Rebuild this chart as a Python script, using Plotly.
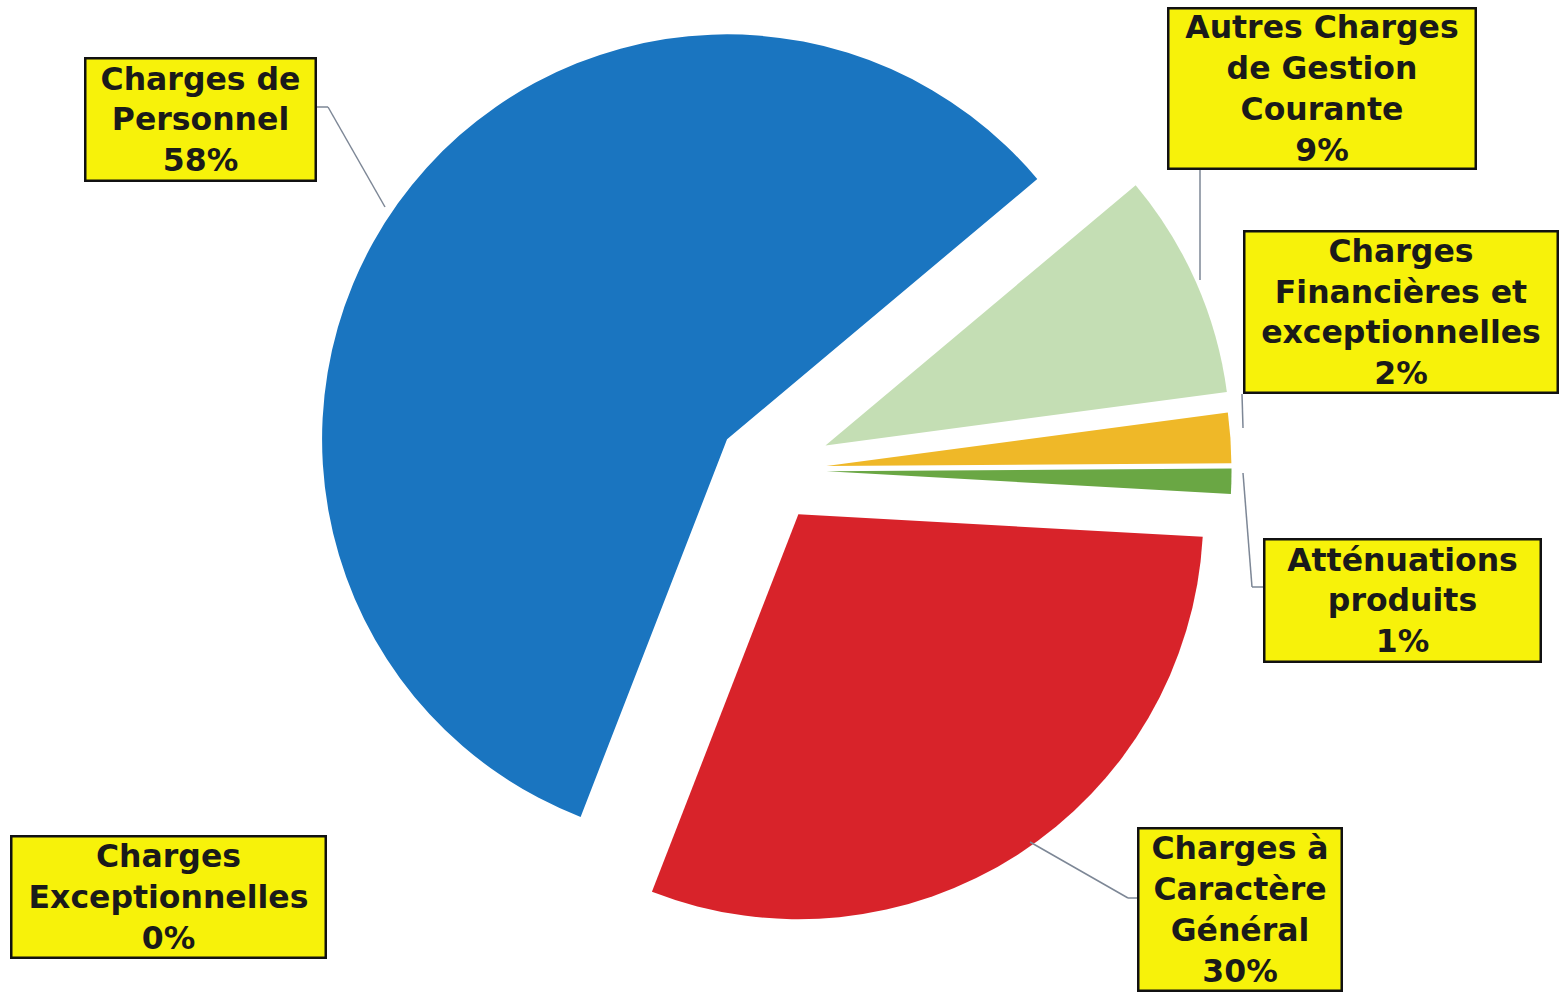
import plotly.graph_objects as go

# ---- data ----
labels = [
    "Autres Charges de Gestion Courante",
    "Charges Financières et exceptionnelles",
    "Atténuations produits",
    "Charges à Caractère Général",
    "Charges de Personnel",
    "Charges Exceptionnelles",
]
values = [9, 2, 1, 30, 58, 0]
label_texts = [
    "Autres Charges<br>de Gestion<br>Courante<br>9%",
    "Charges<br>Financières et<br>exceptionnelles<br>2%",
    "Atténuations<br>produits<br>1%",
    "Charges à<br>Caractère<br>Général<br>30%",
    "Charges de<br>Personnel<br>58%",
    "Charges<br>Exceptionnelles<br>0%",
]

# ---- styles ----
colors = ["#c4deb4", "#efb828", "#6aa744", "#d8232a", "#1a75c0", "#7f7f7f"]
pulls = [0.15, 0.14, 0.14, 0.13, 0.13, 0.0]

W, H = 1560, 993


def px(x):
    return x / W


def py(y):
    return 1 - y / H


fig = go.Figure(
    go.Pie(
        labels=labels,
        values=values,
        sort=False,
        direction="clockwise",
        rotation=50,
        pull=pulls,
        marker=dict(colors=colors, line=dict(width=0)),
        textinfo="none",
        hoverinfo="label+percent",
        showlegend=False,
        domain=dict(x=[0.187, 0.800], y=[0.0577, 0.9957]),
    )
)

# label boxes: (center x, center y, outer width, outer height) in pixels
boxes = [
    (1322, 88.5, 310, 163),
    (1401, 312, 316, 164),
    (1402.5, 600.5, 279, 125),
    (1240, 909.5, 206, 165),
    (200.5, 119.5, 233, 125),
    (168.5, 897, 317, 124),
]
bw = 2.5
annotations = []
for txt, (cx, cy, w, h) in zip(label_texts, boxes):
    annotations.append(
        dict(
            text="<b>" + txt + "</b>",
            x=px(cx),
            y=py(cy),
            xref="paper",
            yref="paper",
            xanchor="center",
            yanchor="middle",
            showarrow=False,
            width=w - 2 * bw,
            height=h - 2 * bw,
            align="center",
            valign="middle",
            bgcolor="#f7f20a",
            bordercolor="#111111",
            borderwidth=bw,
            borderpad=0,
            font=dict(family="DejaVu Sans", size=31.5, color="#1a1a1a"),
        )
    )

# leader lines (pixel polylines)
leaders = [
    [(1200, 170), (1200, 280)],
    [(1242, 394), (1243, 428)],
    [(1243, 473), (1252, 587), (1263, 587)],
    [(1030, 842), (1128, 898), (1137, 898)],
    [(317, 107), (328, 107), (385, 207)],
]
shapes = []
for pts in leaders:
    for (x0, y0), (x1, y1) in zip(pts[:-1], pts[1:]):
        shapes.append(
            dict(
                type="line",
                xref="paper",
                yref="paper",
                x0=px(x0),
                y0=py(y0),
                x1=px(x1),
                y1=py(y1),
                line=dict(color="#7d8796", width=1.5),
            )
        )

fig.update_layout(
    width=W,
    height=H,
    margin=dict(l=0, r=0, t=0, b=0),
    paper_bgcolor="white",
    plot_bgcolor="white",
    showlegend=False,
    annotations=annotations,
    shapes=shapes,
)

fig.write_html(
    "out.html",
    config={"displayModeBar": False},
    post_script="document.body.style.margin='0px';document.body.style.overflow='hidden';",
)
